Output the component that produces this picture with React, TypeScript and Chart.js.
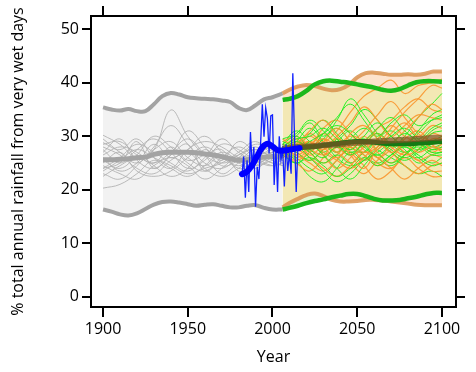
import { useEffect, useRef } from 'react';
import { Chart, registerables } from 'chart.js';

Chart.register(...registerables);

// ---------- axes ----------
const xTicks = [1900, 1950, 2000, 2050, 2100];
const yTicks = [0, 10, 20, 30, 40, 50];
const X_MIN = 1892.9;
const X_MAX = 2108.3;
const Y_MIN = -1.93;
const Y_MAX = 52.49;
const yTitle = '% total annual rainfall from very wet days';
const xTitle = 'Year';

// ---------- historical model ensemble (grey) ----------
const histYears = [1900, 1905, 1910, 1915, 1920, 1925, 1930, 1935, 1940, 1945, 1950, 1955, 1960, 1965, 1970, 1975, 1980, 1985, 1990, 1995, 2000, 2006];
const histUpper = [35.4, 35.0, 34.8, 35.1, 34.7, 34.7, 36.0, 37.5, 38.1, 37.8, 37.3, 37.1, 37.0, 36.9, 36.7, 36.4, 35.3, 34.9, 35.8, 36.9, 37.3, 38.0];
const histLower = [16.3, 15.9, 15.4, 15.2, 15.6, 16.4, 17.2, 17.7, 17.8, 17.6, 17.3, 17.0, 17.2, 17.3, 17.0, 16.7, 16.7, 17.0, 17.1, 16.6, 16.3, 16.3];
const histMean = [25.6, 25.6, 25.7, 25.8, 26.0, 26.1, 26.6, 26.9, 27.0, 27.0, 27.0, 26.9, 26.7, 26.5, 26.2, 25.8, 25.5, 25.6, 25.9, 26.1, 26.2, 26.3];

const histThinYears = [1900, 1910, 1920, 1930, 1940, 1950, 1960, 1970, 1980, 1990, 2000, 2006];
const histRun1 = [30.2, 28.5, 26.0, 27.5, 34.9, 30.0, 26.5, 25.0, 26.0, 26.5, 27.0, 26.8];
const histRun2 = [20.3, 21.0, 23.0, 25.5, 24.0, 22.5, 24.5, 27.0, 25.5, 24.5, 25.5, 26.0];
const histRun3 = [28.8, 27.5, 29.5, 26.0, 24.0, 27.5, 29.0, 28.0, 26.0, 25.0, 26.5, 27.5];
const histRun4 = [27.0, 29.5, 25.5, 24.0, 26.5, 31.0, 28.0, 24.5, 25.5, 27.5, 26.0, 25.5];
const histRun5 = [25.5, 24.0, 26.5, 30.0, 28.0, 25.0, 23.5, 26.0, 28.0, 26.0, 24.5, 25.0];
const histRun6 = [24.0, 26.0, 28.5, 27.0, 25.0, 23.5, 26.0, 29.5, 27.0, 25.5, 27.0, 26.5];
const histRun7 = [23.0, 22.0, 24.5, 28.0, 32.0, 28.5, 25.0, 24.0, 26.0, 28.0, 25.5, 24.5];
const histRun8 = [28.0, 26.5, 24.0, 23.0, 25.5, 27.5, 30.0, 27.0, 24.0, 25.0, 27.0, 28.0];
const histRun9 = [26.5, 28.0, 27.0, 24.5, 22.5, 24.0, 27.5, 25.5, 29.0, 27.0, 25.0, 26.0];
const histRun10 = [22.5, 24.5, 26.0, 25.0, 27.0, 29.5, 26.5, 23.0, 25.0, 26.5, 28.0, 27.0];
const histRun11 = [29.5, 27.0, 25.0, 27.5, 29.0, 26.0, 24.5, 26.5, 25.0, 24.0, 26.0, 25.5];
const histRun12 = [24.5, 23.0, 22.0, 24.5, 26.0, 24.5, 22.0, 24.0, 26.5, 27.5, 26.0, 25.0];
const histRun13 = [27.5, 25.0, 27.5, 29.5, 27.0, 24.0, 25.5, 28.5, 27.5, 25.5, 24.5, 26.0];
const histRun14 = [25.0, 27.0, 23.5, 22.5, 23.5, 26.0, 28.0, 26.0, 24.5, 26.0, 27.5, 27.0];
const histRun15 = [23.5, 25.5, 27.5, 26.0, 24.5, 23.0, 24.0, 25.0, 27.0, 29.0, 26.5, 25.5];
const histRun16 = [26.0, 23.5, 25.0, 28.5, 26.0, 27.0, 24.0, 22.5, 24.0, 26.0, 25.0, 24.5];
const histRun17 = [28.5, 29.0, 26.5, 25.0, 28.0, 25.5, 26.5, 27.5, 23.5, 24.5, 26.5, 27.5];
const histRun18 = [24.0, 25.0, 29.0, 24.0, 26.5, 28.5, 23.5, 25.5, 26.5, 28.5, 27.5, 26.0];
const histRuns = [histRun1, histRun2, histRun3, histRun4, histRun5, histRun6, histRun7, histRun8, histRun9, histRun10, histRun11, histRun12, histRun13, histRun14, histRun15, histRun16, histRun17, histRun18];

// ---------- observations (blue) ----------
const obsYears = [1982, 1983, 1984, 1985, 1986, 1987, 1988, 1989, 1990, 1991, 1992, 1993, 1994, 1995, 1996, 1997, 1998, 1999, 2000, 2001, 2002, 2003, 2004, 2005, 2006, 2007, 2008, 2009, 2010, 2011, 2012, 2013, 2014, 2015];
const obsValues = [22.8, 26.2, 18.5, 25.5, 19.6, 30.8, 24.3, 28.0, 16.8, 24.3, 22.0, 28.7, 36.0, 29.9, 35.3, 33.3, 26.8, 33.8, 34.0, 20.9, 28.0, 19.6, 30.0, 25.6, 27.5, 20.6, 28.5, 23.5, 26.8, 23.0, 41.8, 29.9, 19.6, 28.0];
const obsSmoothYears = [1982, 1985, 1988, 1991, 1994, 1997, 2000, 2003, 2006, 2009, 2012, 2016];
const obsSmooth = [22.9, 23.4, 24.6, 26.3, 27.9, 28.6, 28.1, 27.4, 27.3, 27.4, 27.6, 27.8];

// ---------- future projections (orange & green) ----------
const futYears = [2006, 2010, 2015, 2020, 2025, 2030, 2035, 2040, 2045, 2050, 2055, 2060, 2065, 2070, 2075, 2080, 2085, 2090, 2095, 2100];
const orangeUpper = [38.0, 38.7, 39.3, 39.6, 39.4, 38.9, 38.6, 38.8, 39.6, 41.0, 41.8, 41.9, 41.7, 41.5, 41.5, 41.6, 41.5, 41.7, 42.1, 42.1];
const orangeLower = [16.7, 17.5, 18.3, 19.0, 19.3, 18.8, 18.1, 17.8, 17.8, 17.9, 18.1, 18.1, 18.0, 17.8, 17.6, 17.4, 17.2, 17.1, 17.1, 17.1];
const orangeMean = [27.6, 27.8, 28.0, 28.1, 28.2, 28.3, 28.4, 28.5, 28.7, 28.8, 28.9, 29.0, 29.1, 29.2, 29.3, 29.4, 29.5, 29.6, 29.7, 29.7];
const greenUpper = [36.8, 37.0, 37.5, 38.5, 39.7, 40.3, 40.4, 40.2, 40.0, 39.7, 39.4, 39.1, 38.7, 38.5, 38.8, 39.5, 40.1, 40.3, 40.3, 40.2];
const greenLower = [16.3, 16.6, 17.0, 17.5, 17.9, 18.2, 18.6, 18.9, 19.2, 19.2, 18.8, 18.3, 18.0, 18.0, 18.1, 18.4, 18.7, 19.1, 19.4, 19.4];
const greenMean = [27.4, 27.6, 27.8, 28.0, 28.1, 28.3, 28.5, 28.7, 28.9, 29.0, 29.0, 28.9, 28.7, 28.6, 28.6, 28.6, 28.7, 28.8, 28.9, 29.0];

const futThinYears = [2006, 2014, 2022, 2030, 2038, 2046, 2054, 2062, 2070, 2078, 2086, 2094, 2100];
const orangeRun1 = [27.0, 28.5, 30.5, 29.0, 31.0, 34.5, 37.5, 39.0, 40.5, 38.0, 39.5, 40.0, 40.7];
const orangeRun2 = [27.5, 26.0, 27.5, 29.5, 28.0, 26.5, 28.0, 31.5, 33.0, 35.5, 37.0, 35.0, 34.5];
const orangeRun3 = [28.0, 29.5, 27.0, 25.0, 26.5, 29.0, 27.5, 25.0, 24.0, 26.5, 28.5, 27.0, 28.0];
const orangeRun4 = [26.5, 25.0, 23.5, 26.0, 29.5, 27.0, 24.5, 22.0, 23.5, 26.0, 24.0, 22.5, 22.5];
const orangeRun5 = [29.0, 30.0, 28.5, 31.5, 33.0, 30.5, 28.0, 29.5, 32.0, 30.0, 29.0, 30.5, 30.0];
const orangeRun6 = [27.0, 28.0, 29.0, 27.0, 25.5, 24.0, 26.0, 28.5, 27.0, 24.5, 23.0, 24.5, 25.0];
const orangeRun7 = [28.5, 27.0, 25.5, 27.5, 30.0, 32.5, 35.5, 33.0, 30.0, 32.0, 34.0, 33.5, 33.0];
const orangeRun8 = [26.0, 27.5, 29.0, 26.5, 24.0, 26.0, 29.0, 30.5, 28.0, 26.5, 27.5, 29.5, 29.5];
const orangeRun9 = [27.5, 29.0, 26.5, 28.0, 27.0, 25.0, 23.0, 25.5, 27.5, 29.5, 31.0, 28.5, 27.0];
const orangeRun10 = [28.0, 26.5, 28.0, 30.5, 28.5, 27.5, 30.0, 27.0, 25.0, 27.0, 25.5, 26.5, 26.0];
const orangeRun11 = [29.5, 28.0, 30.0, 28.0, 26.0, 28.5, 31.0, 34.0, 36.5, 33.5, 30.5, 29.0, 29.0];
const orangeRun12 = [26.5, 27.5, 26.0, 24.0, 22.5, 24.5, 27.0, 26.0, 24.0, 22.0, 24.0, 25.5, 24.5];
const orangeRun13 = [27.0, 25.5, 27.0, 29.0, 31.5, 29.0, 27.0, 28.0, 30.5, 32.5, 30.0, 32.0, 31.5];
const orangeRun14 = [28.0, 28.5, 31.0, 33.0, 30.0, 28.0, 26.5, 24.5, 26.0, 28.5, 30.0, 27.5, 28.5];
const orangeRun15 = [27.5, 26.5, 25.0, 23.5, 25.5, 28.0, 25.5, 27.5, 29.0, 27.0, 25.5, 23.5, 23.5];
const orangeRun16 = [26.0, 28.0, 27.5, 26.5, 28.0, 30.0, 29.0, 26.0, 28.5, 31.0, 33.5, 36.0, 35.0];
const orangeRun17 = [28.5, 27.5, 29.0, 27.5, 29.0, 26.5, 24.0, 28.0, 31.5, 34.5, 37.0, 39.5, 39.0];
const orangeRun18 = [27.0, 29.0, 28.0, 29.5, 27.0, 30.5, 32.0, 29.5, 27.0, 28.5, 27.0, 28.0, 27.5];
const orangeRuns = [orangeRun1, orangeRun2, orangeRun3, orangeRun4, orangeRun5, orangeRun6, orangeRun7, orangeRun8, orangeRun9, orangeRun10, orangeRun11, orangeRun12, orangeRun13, orangeRun14, orangeRun15, orangeRun16, orangeRun17, orangeRun18];

const greenRun1 = [28.0, 30.0, 32.5, 30.0, 33.0, 37.0, 34.0, 30.5, 28.0, 30.0, 33.5, 36.0, 38.0];
const greenRun2 = [27.0, 25.5, 22.5, 21.5, 24.0, 27.0, 25.5, 27.0, 28.5, 27.0, 26.0, 27.5, 27.5];
const greenRun3 = [28.5, 31.0, 29.0, 27.0, 29.5, 32.0, 35.0, 33.0, 30.0, 28.5, 30.5, 33.0, 34.0];
const greenRun4 = [26.5, 28.0, 30.5, 33.0, 30.5, 28.0, 27.0, 29.5, 31.0, 29.0, 27.5, 29.0, 30.0];
const greenRun5 = [27.5, 26.0, 24.0, 23.0, 25.5, 28.0, 29.5, 27.5, 26.0, 24.5, 23.0, 23.5, 22.5];
const greenRun6 = [29.0, 28.0, 27.5, 29.5, 31.5, 29.0, 26.5, 25.0, 26.5, 28.0, 26.5, 25.0, 26.0];
const greenRun7 = [27.0, 29.0, 31.5, 29.0, 26.0, 24.5, 25.5, 28.0, 30.0, 31.5, 29.5, 28.0, 28.5];
const greenRun8 = [28.0, 27.0, 25.5, 27.5, 29.0, 31.0, 28.5, 26.0, 24.5, 26.5, 28.5, 31.0, 32.0];
const greenRun9 = [26.0, 27.5, 28.5, 26.5, 24.0, 22.0, 24.5, 27.5, 29.0, 27.5, 25.0, 26.5, 27.0];
const greenRun10 = [28.5, 30.0, 28.0, 30.5, 33.5, 36.0, 33.0, 29.5, 27.5, 26.0, 27.5, 30.5, 31.0];
const greenRun11 = [27.5, 28.5, 27.0, 25.0, 26.5, 25.0, 27.0, 29.0, 27.0, 25.5, 27.0, 28.5, 29.0];
const greenRun12 = [27.0, 25.0, 27.0, 28.5, 27.0, 29.5, 31.5, 30.0, 32.5, 34.0, 32.0, 33.0, 33.5];
const greenRun13 = [29.5, 30.5, 33.0, 31.0, 28.5, 27.0, 28.5, 30.5, 28.5, 27.0, 28.5, 27.0, 27.0];
const greenRun14 = [26.5, 25.0, 26.0, 24.5, 22.5, 24.0, 26.0, 24.5, 26.5, 28.0, 26.0, 24.5, 25.0];
const greenRun15 = [28.0, 29.5, 30.0, 31.5, 29.5, 27.5, 30.0, 32.5, 30.0, 28.5, 31.0, 34.0, 35.0];
const greenRun16 = [27.0, 28.0, 26.0, 23.5, 21.5, 23.0, 25.5, 26.5, 25.0, 26.5, 28.0, 26.5, 26.5];
const greenRun17 = [28.5, 27.5, 29.0, 30.5, 32.0, 30.5, 28.0, 26.5, 28.5, 30.5, 29.0, 27.5, 28.0];
const greenRun18 = [27.5, 29.0, 27.5, 26.0, 28.0, 26.5, 29.0, 31.5, 33.5, 31.0, 29.5, 31.5, 32.5];
const greenRuns = [greenRun1, greenRun2, greenRun3, greenRun4, greenRun5, greenRun6, greenRun7, greenRun8, greenRun9, greenRun10, greenRun11, greenRun12, greenRun13, greenRun14, greenRun15, greenRun16, greenRun17, greenRun18];

// ---------- colours ----------
const GREY_FILL = '#f2f2f2';
const KHAKI = '#f3e8b4';
const PEACH = '#fde3cc';
const LIGHT_GREEN = '#e3f6d0';

const pts = (xs: number[], ys: number[]) => xs.map((x, i) => ({ x, y: ys[i] }));

function buildDatasets() {
  const list: any[] = [];
  const add = (d: any) => {
    list.push({ pointRadius: 0, pointHoverRadius: 0, fill: false, tension: 0.4, ...d });
    return list.length - 1;
  };
  const hiddenLine = { borderWidth: 0, borderColor: 'rgba(0,0,0,0)' };

  // fills (bottom)
  const gU = add({ data: pts(histYears, histUpper), ...hiddenLine, backgroundColor: GREY_FILL });
  const gL = add({ data: pts(histYears, histLower), ...hiddenLine });
  list[gU].fill = { target: gL };

  const oU = add({ data: pts(futYears, orangeUpper), ...hiddenLine, backgroundColor: KHAKI });
  const oL = add({ data: pts(futYears, orangeLower), ...hiddenLine });
  list[oU].fill = { target: oL };

  const nU = add({ data: pts(futYears, greenUpper), ...hiddenLine, backgroundColor: KHAKI });
  const nL = add({ data: pts(futYears, greenLower), ...hiddenLine });
  list[nU].fill = { target: nL };

  const oU2 = add({ data: pts(futYears, orangeUpper), ...hiddenLine });
  const nU2 = add({ data: pts(futYears, greenUpper), ...hiddenLine });
  list[oU2].fill = { target: nU2, above: PEACH, below: LIGHT_GREEN };

  const oL2 = add({ data: pts(futYears, orangeLower), ...hiddenLine });
  const nL2 = add({ data: pts(futYears, greenLower), ...hiddenLine });
  list[oL2].fill = { target: nL2, above: LIGHT_GREEN, below: PEACH };

  // grey model runs
  histRuns.forEach((r) => add({ data: pts(histThinYears, r), borderColor: 'rgba(175,175,175,0.85)', borderWidth: 1 }));
  add({ data: pts(histYears, histUpper), borderColor: '#a3a3a3', borderWidth: 4 });
  add({ data: pts(histYears, histLower), borderColor: '#a3a3a3', borderWidth: 4 });
  add({ data: pts(histYears, histMean), borderColor: '#a3a3a3', borderWidth: 5 });

  // future runs
  orangeRuns.forEach((r, i) => {
    add({ data: pts(futThinYears, r), borderColor: 'rgba(250,150,45,0.9)', borderWidth: 1.2 });
    add({ data: pts(futThinYears, greenRuns[i]), borderColor: 'rgba(30,240,30,0.95)', borderWidth: 1 });
  });

  add({ data: pts(futYears, orangeUpper), borderColor: 'rgba(215,140,70,0.8)', borderWidth: 4 });
  add({ data: pts(futYears, orangeLower), borderColor: 'rgba(215,140,70,0.8)', borderWidth: 4 });
  add({ data: pts(futYears, greenUpper), borderColor: '#1cb81c', borderWidth: 4.5 });
  add({ data: pts(futYears, greenLower), borderColor: '#1cb81c', borderWidth: 4.5 });
  add({ data: pts(futYears, greenMean), borderColor: '#157a15', borderWidth: 5 });
  add({ data: pts(futYears, orangeMean), borderColor: 'rgba(125,80,35,0.7)', borderWidth: 6 });

  // observations
  add({ data: pts(obsYears, obsValues), borderColor: '#1020ff', borderWidth: 1.3, tension: 0 });
  add({ data: pts(obsSmoothYears, obsSmooth), borderColor: '#0000ff', borderWidth: 6, borderCapStyle: 'round' });

  const n = list.length;
  list.forEach((d, i) => (d.order = n - i));
  return list;
}

const FONT = "'Open Sans', 'DejaVu Sans', sans-serif";

export default function App() {
  const ref = useRef<HTMLCanvasElement>(null);

  useEffect(() => {
    if (!ref.current) return;
    const setTicks = (vals: number[]) => (scale: any) => {
      scale.ticks = vals.map((v) => ({ value: v }));
    };
    const frame = (extra: any) => ({
      grid: { display: true, drawOnChartArea: false, drawTicks: true, tickLength: 10, color: '#000', lineWidth: 2 },
      border: { display: true, color: '#000', width: 2 },
      ...extra,
    });
    const chart = new Chart(ref.current, {
      type: 'line',
      data: { datasets: buildDatasets() },
      options: {
        animation: false,
        responsive: true,
        maintainAspectRatio: false,
        layout: { padding: 0 },
        plugins: {
          legend: { display: false },
          tooltip: { enabled: false },
          filler: { drawTime: 'beforeDatasetsDraw', propagate: false },
        },
        scales: {
          x: frame({
            type: 'linear',
            position: 'bottom',
            min: X_MIN,
            max: X_MAX,
            afterBuildTicks: setTicks(xTicks),
            afterFit: (s: any) => { s.height = 65; },
            ticks: { color: '#000', font: { family: FONT, size: 16 }, padding: 3, maxRotation: 0, callback: (v: any) => String(v) },
            title: { display: true, text: xTitle, color: '#000', font: { family: FONT, size: 16 }, padding: { top: 0, bottom: 5 } },
          }),
          x2: frame({
            type: 'linear',
            axis: 'x',
            position: 'top',
            min: X_MIN,
            max: X_MAX,
            afterBuildTicks: setTicks(xTicks),
            afterFit: (s: any) => { s.height = 16; },
            ticks: { display: false },
          }),
          y: frame({
            type: 'linear',
            position: 'left',
            min: Y_MIN,
            max: Y_MAX,
            afterBuildTicks: setTicks(yTicks),
            afterFit: (s: any) => { s.width = 91; },
            grid: { display: true, drawOnChartArea: false, drawTicks: true, tickLength: 9, color: '#000', lineWidth: 2 },
            ticks: { color: '#000', font: { family: FONT, size: 16 }, padding: 3 },
            title: { display: true, text: yTitle, color: '#000', font: { family: FONT, size: 16 }, padding: { top: 9, bottom: 0 } },
          }),
          y2: frame({
            type: 'linear',
            axis: 'y',
            position: 'right',
            min: Y_MIN,
            max: Y_MAX,
            afterBuildTicks: setTicks(yTicks),
            afterFit: (s: any) => { s.width = 20; },
            grid: { display: true, drawOnChartArea: false, drawTicks: true, tickLength: 9, color: '#000', lineWidth: 2 },
            ticks: { display: false },
          }),
        },
      } as any,
    });
    return () => chart.destroy();
  }, []);

  return (
    <div style={{ position: 'absolute', left: 0, top: 0, width: 476, height: 372, background: '#fff' }}>
      <canvas ref={ref} />
    </div>
  );
}
